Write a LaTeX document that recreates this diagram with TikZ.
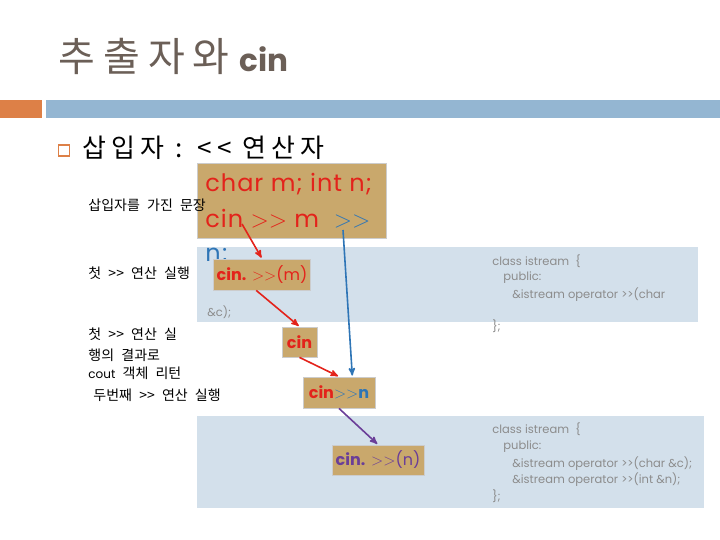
\documentclass[tikz,border=0pt]{standalone}
\usepackage{fontspec}
\usepackage{xcolor}
\usetikzlibrary{positioning}
\usetikzlibrary{arrows}
\newfontfamily\kr{Noto Sans CJK KR}[WordSpace=2.3]
\newfontfamily\krs{Noto Sans CJK KR}[LetterSpace=20]
\newfontfamily\gothic{Poppins}
\newfontfamily\gothicw{Poppins}[LetterSpace=4]
\newcommand\opgt{{\rmfamily>}}
\definecolor{titlegray}{HTML}{6B5F57}
\definecolor{barorange}{HTML}{DD8047}
\definecolor{barblue}{HTML}{94B6D2}
\definecolor{tan}{HTML}{C9A86C}
\definecolor{paleblue}{HTML}{D3E0EB}
\definecolor{codered}{HTML}{E3231B}
\definecolor{codeblue}{HTML}{2E75B6}
\definecolor{codepurple}{HTML}{6A3E98}
\definecolor{classgray}{HTML}{8C8C8C}

\begin{document}
\begin{tikzpicture}[x=1pt,y=-1pt,>=stealth',thick,
    tan box/.style={rectangle,fill=tan,draw=black!20,inner sep=0pt},
    pale box/.style={rectangle,fill=paleblue,inner sep=0pt,anchor=north west},
    note/.style={anchor=base west,inner sep=0pt,font=\kr\fontsize{14}{14}\selectfont},
    class line/.style={anchor=base west,inner sep=0pt,text=classgray,font=\gothic\fontsize{11.5}{12}\selectfont},
    code/.style={anchor=base west,inner sep=0pt,font=\gothicw\fontsize{24}{24}\selectfont},
    call/.style={line width=1.6pt,->,shorten >=1pt}]
  \useasboundingbox (0,0) rectangle (720,540);

  % title and bars
  \node[anchor=base west,inner sep=0pt,text=titlegray] (title) at (58,72)
    {{\krs\fontsize{40}{40}\selectfont 추출자와}\hspace{10pt}{\gothic\fontsize{31}{31}\selectfont\fontseries{sb}\selectfont cin}};
  \fill[barorange] (0,100) rectangle (42,118);
  \fill[barblue] (46,100) rectangle (720,118);
  \node[draw=barorange,line width=1.5pt,minimum size=11pt,inner sep=0pt] (bullet) at (64,150.5) {};
  \node[anchor=base west,inner sep=0pt] (bullettext) at (82,158)
    {\krs\fontsize{26}{26}\selectfont 삽입자 : << 연산자};

  % class boxes
  \node[pale box,minimum width=501pt,minimum height=75pt] (class1) at (197,247) {};
  \node[pale box,minimum width=507pt,minimum height=92pt] (class2) at (197,416) {};

  % statement box
  \node[tan box,anchor=north west,minimum width=189pt,minimum height=75pt] (stmt) at (197,163) {};
  \node[code,text=codered] (line1) at (205,192) {char m; int n;};
  \node[code,text=codered] (line2) at (205,228) {cin \opgt\opgt{} m \ \textcolor{codeblue}{\opgt\opgt}};
  \node[code,text=codeblue] (line3) at (205,261) {n;};
  \coordinate (opm) at (242,224);
  \coordinate (opn) at (343,230);

  % left notes
  \node[note] (n1) at (88,211) {삽입자를 가진 문장};
  \node[note] (n2) at (88,278) {첫 >> 연산 실행};
  \node[note] (n3) at (88,339) {첫 >> 연산 실};
  \node[note] (n4) at (88,360) {행의 결과로};
  \node[note] (n5) at (88,378) {{\gothic\fontsize{12}{12}\selectfont cout} 객체 리턴};
  \node[note] (n6) at (93,400) {두번째 >> 연산 실행};

  % calls
  \node[tan box,minimum width=97pt,minimum height=31pt,text=codered,
        font=\gothic\fontsize{16}{16}\selectfont] (callm) at (262,274.5)
    {\textbf{cin.} \opgt\opgt(m)};
  \node[tan box,minimum width=35pt,minimum height=30pt,text=codered,
        font=\gothic\bfseries\fontsize{16}{16}\selectfont] (cinbox) at (299.5,342) {cin};
  \node[tan box,minimum width=72pt,minimum height=31pt,text=codered,
        font=\gothic\fontsize{16}{16}\selectfont] (cinn) at (339,392.5)
    {\textbf{cin}\textcolor{codeblue}{\opgt\opgt\textbf{n}}};
  \node[tan box,minimum width=92pt,minimum height=30pt,text=codepurple,
        font=\gothic\fontsize{16}{16}\selectfont] (calln) at (378,460)
    {\textbf{cin.} \opgt\opgt(n)};

  % class text
  \node[class line] (c1) at (492,265) {class istream \ \{};
  \node[class line] (c2) at (503,280) {public:};
  \node[class line] (c3) at (512,298) {\&istream operator >>(char};
  \node[class line] (c4) at (207,316) {\&c);};
  \node[class line] (c5) at (492,330) {\};};
  \node[class line] (d1) at (492,433) {class istream \ \{};
  \node[class line] (d2) at (503,449) {public:};
  \node[class line] (d3) at (512,467) {\&istream operator >>(char \&c);};
  \node[class line] (d4) at (512,483) {\&istream operator >>(int \&n);};
  \node[class line] (d5) at (492,500) {\};};

  % arrows
  \draw[call,codered] (opm) -- (callm.north);
  \draw[call,codered] (callm.250) -- (cinbox.north);
  \draw[call,codered] (cinbox.south) -- (cinn.north);
  \draw[call,codeblue] (opn) -- (cinn.50);
  \draw[call,codepurple] (cinn.south) -- (calln.north);
\end{tikzpicture}
\end{document}
